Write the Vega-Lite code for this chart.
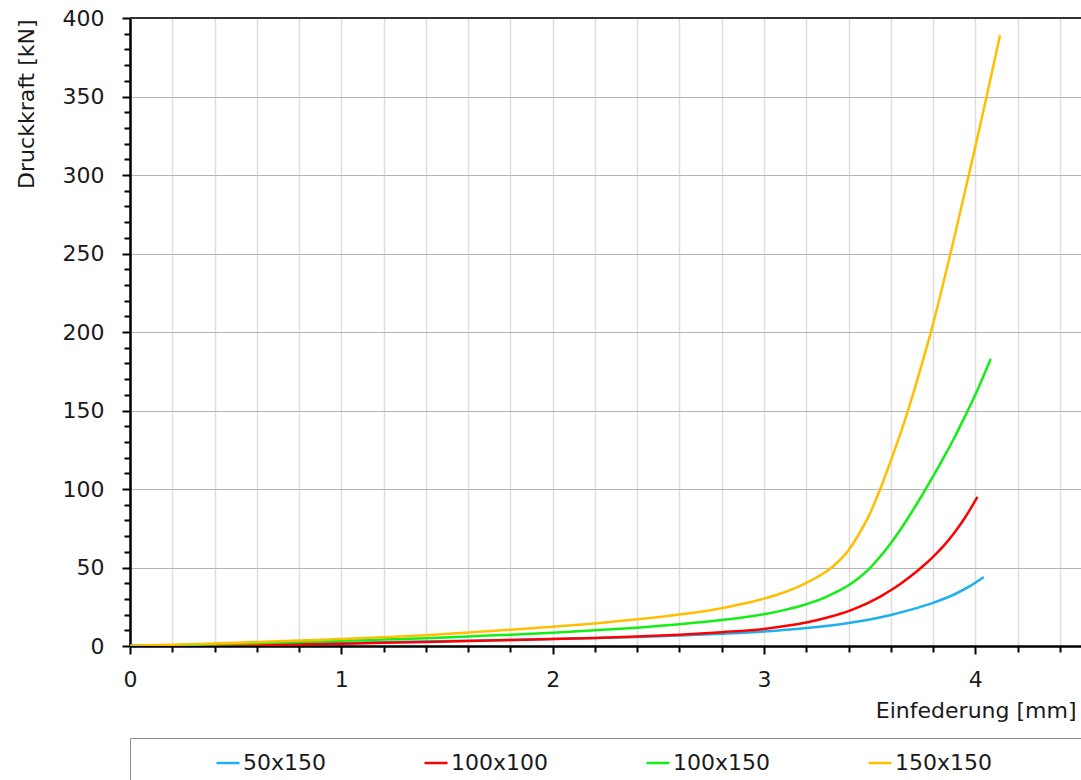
{
  "$schema": "https://vega.github.io/schema/vega-lite/v6.json",
  "autosize": {"type": "none"},
  "padding": {"left": 130, "top": 18, "right": 0, "bottom": 134},
  "width": 951,
  "height": 628,
  "background": "white",
  "config": {
    "font": "DejaVu Sans",
    "view": {"stroke": null}
  },
  "data": {
    "values": [
      {"s": "50x150", "x": 0, "y": 0}, {"s": "50x150", "x": 0.2, "y": 0.3}, {"s": "50x150", "x": 0.4, "y": 0.6}, {"s": "50x150", "x": 0.6, "y": 1.0}, {"s": "50x150", "x": 0.8, "y": 1.4}, {"s": "50x150", "x": 1.0, "y": 1.9}, {"s": "50x150", "x": 1.2, "y": 2.4}, {"s": "50x150", "x": 1.4, "y": 2.9}, {"s": "50x150", "x": 1.6, "y": 3.4}, {"s": "50x150", "x": 1.8, "y": 3.9}, {"s": "50x150", "x": 2.0, "y": 4.5}, {"s": "50x150", "x": 2.2, "y": 5.1}, {"s": "50x150", "x": 2.4, "y": 5.8}, {"s": "50x150", "x": 2.6, "y": 6.7}, {"s": "50x150", "x": 2.8, "y": 7.8}, {"s": "50x150", "x": 3.0, "y": 9.2}, {"s": "50x150", "x": 3.2, "y": 11.4}, {"s": "50x150", "x": 3.4, "y": 14.6}, {"s": "50x150", "x": 3.5, "y": 16.9}, {"s": "50x150", "x": 3.6, "y": 19.8}, {"s": "50x150", "x": 3.7, "y": 23.3}, {"s": "50x150", "x": 3.8, "y": 27.5}, {"s": "50x150", "x": 3.9, "y": 32.8}, {"s": "50x150", "x": 3.97, "y": 37.8}, {"s": "50x150", "x": 4.04, "y": 44},
      {"s": "100x100", "x": 0, "y": 0}, {"s": "100x100", "x": 0.2, "y": 0.1}, {"s": "100x100", "x": 0.4, "y": 0.3}, {"s": "100x100", "x": 0.6, "y": 0.6}, {"s": "100x100", "x": 0.8, "y": 1.0}, {"s": "100x100", "x": 1.0, "y": 1.5}, {"s": "100x100", "x": 1.2, "y": 2.0}, {"s": "100x100", "x": 1.4, "y": 2.6}, {"s": "100x100", "x": 1.6, "y": 3.2}, {"s": "100x100", "x": 1.8, "y": 3.8}, {"s": "100x100", "x": 2.0, "y": 4.4}, {"s": "100x100", "x": 2.2, "y": 5.1}, {"s": "100x100", "x": 2.4, "y": 6.0}, {"s": "100x100", "x": 2.6, "y": 7.2}, {"s": "100x100", "x": 2.8, "y": 8.8}, {"s": "100x100", "x": 3.0, "y": 10.9}, {"s": "100x100", "x": 3.1, "y": 12.7}, {"s": "100x100", "x": 3.2, "y": 15.0}, {"s": "100x100", "x": 3.3, "y": 18.2}, {"s": "100x100", "x": 3.4, "y": 22.2}, {"s": "100x100", "x": 3.45, "y": 24.9}, {"s": "100x100", "x": 3.5, "y": 28.0}, {"s": "100x100", "x": 3.55, "y": 31.5}, {"s": "100x100", "x": 3.6, "y": 35.5}, {"s": "100x100", "x": 3.65, "y": 40.0}, {"s": "100x100", "x": 3.7, "y": 45.0}, {"s": "100x100", "x": 3.75, "y": 50.6}, {"s": "100x100", "x": 3.8, "y": 56.8}, {"s": "100x100", "x": 3.85, "y": 63.8}, {"s": "100x100", "x": 3.9, "y": 72.0}, {"s": "100x100", "x": 3.95, "y": 81.5}, {"s": "100x100", "x": 4.01, "y": 95},
      {"s": "100x150", "x": 0, "y": 0}, {"s": "100x150", "x": 0.2, "y": 0.5}, {"s": "100x150", "x": 0.4, "y": 1.1}, {"s": "100x150", "x": 0.6, "y": 1.8}, {"s": "100x150", "x": 0.8, "y": 2.6}, {"s": "100x150", "x": 1.0, "y": 3.3}, {"s": "100x150", "x": 1.2, "y": 4.1}, {"s": "100x150", "x": 1.4, "y": 5.0}, {"s": "100x150", "x": 1.6, "y": 6.1}, {"s": "100x150", "x": 1.8, "y": 7.2}, {"s": "100x150", "x": 2.0, "y": 8.5}, {"s": "100x150", "x": 2.2, "y": 10.0}, {"s": "100x150", "x": 2.4, "y": 11.7}, {"s": "100x150", "x": 2.6, "y": 13.8}, {"s": "100x150", "x": 2.8, "y": 16.5}, {"s": "100x150", "x": 2.9, "y": 18.2}, {"s": "100x150", "x": 3.0, "y": 20.2}, {"s": "100x150", "x": 3.1, "y": 23.0}, {"s": "100x150", "x": 3.2, "y": 26.6}, {"s": "100x150", "x": 3.3, "y": 31.6}, {"s": "100x150", "x": 3.35, "y": 34.9}, {"s": "100x150", "x": 3.4, "y": 38.7}, {"s": "100x150", "x": 3.45, "y": 43.5}, {"s": "100x150", "x": 3.5, "y": 49.5}, {"s": "100x150", "x": 3.55, "y": 57}, {"s": "100x150", "x": 3.6, "y": 65.5}, {"s": "100x150", "x": 3.65, "y": 75}, {"s": "100x150", "x": 3.7, "y": 85.5}, {"s": "100x150", "x": 3.75, "y": 96.5}, {"s": "100x150", "x": 3.8, "y": 108}, {"s": "100x150", "x": 3.85, "y": 120}, {"s": "100x150", "x": 3.9, "y": 132.5}, {"s": "100x150", "x": 3.95, "y": 146}, {"s": "100x150", "x": 4.0, "y": 160}, {"s": "100x150", "x": 4.073, "y": 183},
      {"s": "150x150", "x": 0, "y": 0}, {"s": "150x150", "x": 0.2, "y": 0.8}, {"s": "150x150", "x": 0.4, "y": 1.6}, {"s": "150x150", "x": 0.6, "y": 2.5}, {"s": "150x150", "x": 0.8, "y": 3.5}, {"s": "150x150", "x": 1.0, "y": 4.5}, {"s": "150x150", "x": 1.2, "y": 5.6}, {"s": "150x150", "x": 1.4, "y": 6.9}, {"s": "150x150", "x": 1.6, "y": 8.6}, {"s": "150x150", "x": 1.8, "y": 10.4}, {"s": "150x150", "x": 2.0, "y": 12.3}, {"s": "150x150", "x": 2.2, "y": 14.4}, {"s": "150x150", "x": 2.4, "y": 17.0}, {"s": "150x150", "x": 2.6, "y": 20.1}, {"s": "150x150", "x": 2.8, "y": 24.1}, {"s": "150x150", "x": 2.9, "y": 26.9}, {"s": "150x150", "x": 3.0, "y": 30.2}, {"s": "150x150", "x": 3.1, "y": 34.4}, {"s": "150x150", "x": 3.15, "y": 37.0}, {"s": "150x150", "x": 3.2, "y": 40.2}, {"s": "150x150", "x": 3.25, "y": 43.8}, {"s": "150x150", "x": 3.3, "y": 48}, {"s": "150x150", "x": 3.35, "y": 53.5}, {"s": "150x150", "x": 3.4, "y": 61}, {"s": "150x150", "x": 3.45, "y": 71.5}, {"s": "150x150", "x": 3.5, "y": 84}, {"s": "150x150", "x": 3.55, "y": 100}, {"s": "150x150", "x": 3.6, "y": 118}, {"s": "150x150", "x": 3.65, "y": 137}, {"s": "150x150", "x": 3.7, "y": 158}, {"s": "150x150", "x": 3.75, "y": 181}, {"s": "150x150", "x": 3.8, "y": 205}, {"s": "150x150", "x": 3.85, "y": 232}, {"s": "150x150", "x": 3.9, "y": 260}, {"s": "150x150", "x": 3.95, "y": 289}, {"s": "150x150", "x": 4.0, "y": 318}, {"s": "150x150", "x": 4.05, "y": 348}, {"s": "150x150", "x": 4.117, "y": 389}
    ]
  },
  "layer": [
    {
      "mark": {"type": "line", "strokeWidth": 2.5, "interpolate": "monotone", "clip": true},
      "encoding": {
        "x": {
          "field": "x", "type": "quantitative",
          "scale": {"domain": [0, 4.5], "nice": false, "zero": false},
          "axis": {
            "values": [0, 0.2, 0.4, 0.6, 0.8, 1, 1.2, 1.4, 1.6, 1.8, 2, 2.2, 2.4, 2.6, 2.8, 3, 3.2, 3.4, 3.6, 3.8, 4, 4.2, 4.4],
            "tickCount": 200,
            "labelExpr": "abs(datum.value - round(datum.value)) < 0.001 ? format(datum.value, 'd') : ''",
            "grid": true, "gridColor": "#dedede", "gridWidth": 1.5,
            "domainColor": "#000000", "domainWidth": 2.5,
            "tickColor": "#000000", "tickWidth": 2,
            "tickSize": {"condition": {"test": "abs(datum.value - round(datum.value)) < 0.001", "value": 8}, "value": 6},
            "labelFontSize": 22, "labelColor": "#1a1a1a", "labelPadding": 15, "labelFlush": false, "labelOverlap": false,
            "title": "Einfederung [mm]", "titleFontSize": 22, "titleFontWeight": "normal", "titleColor": "#1a1a1a",
            "titleAnchor": "end", "titleAlign": "right", "titleBaseline": "alphabetic", "titleX": 946, "titleY": 71
          }
        },
        "y": {
          "field": "y", "type": "quantitative",
          "scale": {"domain": [0, 400], "nice": false},
          "axis": {
            "values": [0, 10, 20, 30, 40, 50, 60, 70, 80, 90, 100, 110, 120, 130, 140, 150, 160, 170, 180, 190, 200, 210, 220, 230, 240, 250, 260, 270, 280, 290, 300, 310, 320, 330, 340, 350, 360, 370, 380, 390, 400],
            "tickCount": 200,
            "labelExpr": "datum.value % 50 === 0 ? datum.label : ''",
            "grid": true, "gridColor": "#b4b4b4", "gridWidth": 1.2,
            "gridOpacity": {"condition": {"test": "datum.value % 50 === 0", "value": 1}, "value": 0},
            "domainColor": "#000000", "domainWidth": 2.5,
            "tickColor": "#000000", "tickWidth": 2,
            "tickSize": {"condition": {"test": "datum.value % 50 === 0", "value": 8}, "value": 6},
            "labelFontSize": 22, "labelColor": "#1a1a1a", "labelPadding": 18, "labelOverlap": false, "labelFlush": false,
            "title": "Druckkraft [kN]", "titleFontSize": 22, "titleFontWeight": "normal", "titleColor": "#1a1a1a",
            "titleAngle": 270, "titleAnchor": "end", "titleAlign": "right", "titleBaseline": "alphabetic", "titleX": -97, "titleY": 1
          }
        },
        "color": {
          "field": "s", "type": "nominal",
          "scale": {"domain": ["50x150", "100x100", "100x150", "150x150"], "range": ["#1cb0ec", "#ff0000", "#14ee14", "#ffbf00"]},
          "legend": {
            "orient": "none", "legendX": 0, "legendY": 720,
            "direction": "horizontal", "columns": 4,
            "symbolType": "stroke", "symbolSize": 529, "symbolStrokeWidth": 2.5,
            "labelFontSize": 22, "labelColor": "#1a1a1a", "labelOffset": 2, "labelLimit": 400,
            "labelExpr": "datum.label === '150x150' ? datum.label + '\u00a0\u00a0\u00a0\u00a0\u00a0\u00a0\u00a0\u00a0\u00a0\u00a0\u00a0\u00a0\u200b' : datum.label",
            "columnPadding": 92, "padding": 12, "strokeColor": "#8c8c8c",
            "title": "\u200b\u00a0\u00a0\u00a0\u00a0\u00a0\u00a0\u00a0\u00a0\u200b", "titleOrient": "left", "titlePadding": 11, "titleFontSize": 22
          }
        }
      }
    },
    {
      "mark": {"type": "rule", "color": "#333333", "strokeWidth": 2},
      "encoding": {"y": {"datum": 400}}
    }
  ]
}
